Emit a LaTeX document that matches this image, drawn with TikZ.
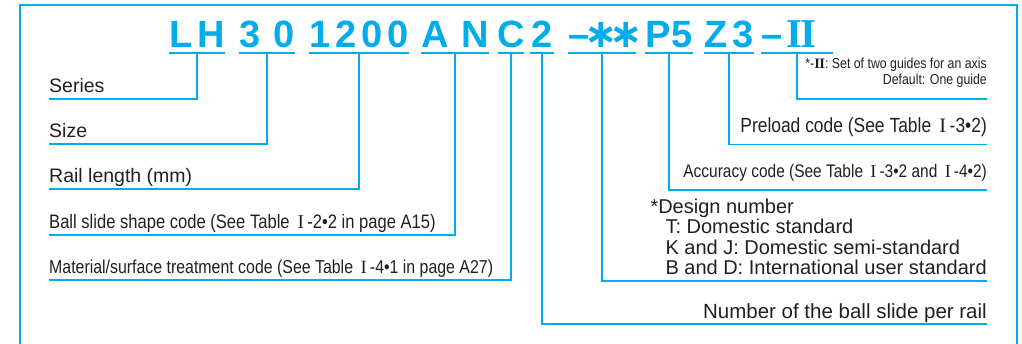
\documentclass[tikz,border=0pt]{standalone}
\usepackage{fontspec}
\setmainfont{Liberation Sans}
\newfontfamily\condfont[FakeStretch=0.85]{Liberation Sans}
\newfontfamily\romfont{Liberation Serif}
\newfontfamily\starfont{DejaVu Sans}
\definecolor{codeblue}{RGB}{0,172,236}
\definecolor{txtgray}{RGB}{35,31,32}
\newcommand{\rnum}[1]{\,{\romfont #1}\,}

\begin{document}
\begin{tikzpicture}[x=1pt,y=-1pt,
    code/.style={codeblue, font=\fontsize{38}{38}\selectfont\bfseries, anchor=south, inner xsep=0pt, inner ysep=5.5pt, text depth=0pt},
    lab/.style={txtgray, font=\fontsize{19.5}{20.4}\selectfont, anchor=south west, inner xsep=0pt, inner ysep=6pt, text depth=0pt},
    rlab/.style={lab, anchor=south east},
    cond/.style={font=\fontsize{#1}{20.4}\selectfont\condfont},
    cond/.default=19.5,
    ln/.style={codeblue, line width=1.3pt},
    frame/.style={codeblue, line width=1.1pt}]
    \useasboundingbox (0,0) rectangle (1022,344);
    % Frame
    \draw[frame] (20,344) |- (1017,5) -- (1017,344);
    % Code letters
    \node[code] (series) at (197,53) {\makebox[56pt][s]{L\hfill H}};
    \node[code] (size) at (267,53) {\makebox[56pt][s]{3\hfill 0}};
    \node[code] (len) at (359,53) {\makebox[99pt][s]{1\hfill 2\hfill 0\hfill 0}};
    \node[code] (shape) at (455,53) {\makebox[68pt][s]{A\hfill N}};
    \node[code] (mat) at (511,53) {\makebox[25pt]{C}};
    \node[code] (num) at (542,53) {\makebox[23pt]{2}};
    \node[code] (design) at (602,53) {\makebox[68pt][l]{–\hspace{-5pt}{\starfont\fontsize{40}{40}\selectfont ∗\kern-8pt∗}}};
    \node[code] (acc) at (669,53) {\makebox[48pt][s]{P\hfill 5}};
    \node[code] (pre) at (729,53) {\makebox[49pt][s]{Z\hfill 3}};
    \node[code] (pair) at (797,53) {\makebox[72pt][l]{–\hspace{4pt}{\romfont\fontsize{41}{41}\selectfont I\kern-1.5pt I}}};
    \foreach \n in {series,size,len,shape,mat,num,design,acc,pre,pair}
        \draw[ln] (\n.south west) -- (\n.south east);
    % Left labels
    \node[lab] (lSeries) at (49,99) {Series};
    \node[lab] (lSize) at (49,144) {Size};
    \node[lab] (lLen) at (49,189) {Rail length (mm)};
    \node[lab, cond] (lShape) at (49,235) {Ball slide shape code (See Table \rnum{I}-2•2 in page A15)};
    \node[lab, cond=18.7] (lMat) at (49,280) {Material/surface treatment code (See Table \rnum{I}-4•1 in page A27)};
    % Right labels
    \node[rlab, inner ysep=14pt, align=right, font=\fontsize{14.5}{16}\selectfont\condfont] (lPair) at (987,99)
        {*-{\romfont\bfseries I\kern-0.5pt I}: Set of two guides for an axis\\Default: One guide};
    \node[rlab, cond=20.5, inner ysep=12pt] (lPre) at (987,144.5) {Preload code (See Table \rnum{I}-3•2)};
    \node[rlab, cond=18.2, inner ysep=12pt] (lAcc) at (987,190) {Accuracy code (See Table \rnum{I}-3•2 and \rnum{I}-4•2)};
    \node[rlab, align=left, font=\fontsize{20}{20.4}\selectfont] (lDesign) at (987,281) {*Design number\\\hspace*{15pt}T: Domestic standard\\\hspace*{15pt}K and J: Domestic semi-standard\\\hspace*{15pt}B and D: International user standard};
    \node[rlab, inner ysep=5pt, font=\fontsize{20.5}{21}\selectfont] (lNum) at (987,324) {Number of the ball slide per rail};
    % Connectors
    \draw[ln] (series.south) |- (lSeries.south west);
    \draw[ln] (size.south) |- (lSize.south west);
    \draw[ln] (len.south) |- (lLen.south west);
    \draw[ln] (shape.south) |- (lShape.south west);
    \draw[ln] (mat.south) |- (lMat.south west);
    \draw[ln] (num.south) |- (lNum.south east);
    \draw[ln] (design.south) |- (lDesign.south east);
    \draw[ln] (acc.south) |- (lAcc.south east);
    \draw[ln] (pre.south) |- (lPre.south east);
    \draw[ln] (pair.south) |- (lPair.south east);
\end{tikzpicture}
\end{document}
